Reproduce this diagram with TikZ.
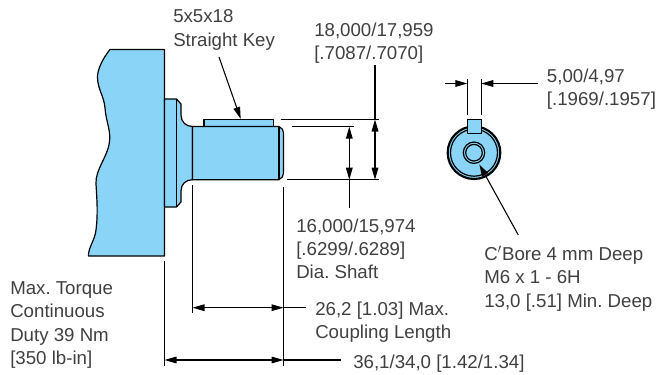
\documentclass[tikz,border=0pt]{standalone}
\usepackage{fontspec}
\setmainfont{Liberation Sans}
\usetikzlibrary{arrows.meta}
\definecolor{partblue}{HTML}{8AD5F7}
\frenchspacing

\begin{document}
\begin{tikzpicture}[
  x=0.75pt, y=-0.75pt,
  every node/.style={font=\fontsize{14}{17.4}\selectfont, align=left, anchor=north west, inner sep=0pt, text=black!75},
  part/.style={draw=black, line width=0.9pt, fill=partblue, line join=round},
  outline/.style={draw=black, line width=0.9pt},
  thinline/.style={draw=black, line width=0.8pt},
  dimline/.style={thinline, {Triangle[length=9pt, width=5pt]}-{Triangle[length=9pt, width=5pt]}},
  leader/.style={thinline, -{Triangle[length=9pt, width=5pt]}}
  ]
\useasboundingbox (0,0) rectangle (662,375);

% Housing and shaft
\draw[part] (110,49.5) .. controls (103,58) and (97,70) .. (97.5,78)
  .. controls (98,90) and (104,96) .. (105,108)
  .. controls (106,122) and (111,130) .. (109.5,142)
  .. controls (108,156) and (95,170) .. (96,184)
  .. controls (97,200) and (98,215) .. (96,230)
  .. controls (95,240) and (88,248) .. (88.5,256)
  -- (164.5,256) -- (164.5,49.5) -- cycle;
\draw[part] (164.5,99) -- (176.5,99) -- (181,104) -- (181,115)
  .. controls (181,122) and (186,126.5) .. (192.5,126.5)
  -- (192.5,179.7) .. controls (186,179.7) and (181,184) .. (181,191)
  -- (181,202) -- (176.5,207) -- (164.5,207) -- cycle;
\draw[part] (204,126.5) -- (204,119.5) -- (273.7,119.5) -- (273.7,126.5) -- cycle;
\draw[part] (192.5,126.5) -- (279,126.5)
  .. controls (282,128) and (283.5,130) .. (283.5,133)
  -- (283.5,173) .. controls (283.5,176) and (282,178.5) .. (279,179.7)
  -- (192.5,179.7) -- cycle;
\draw[outline] (176.5,99) -- (176.5,207);
\draw[outline] (279,126.5) -- (279,179.7);

% End view
\draw[part, line width=1.6pt] (474,152.7) circle (26.3);
\draw[outline] (474,152.7) circle (23.5);
\draw[part] (467.3,119.3) rectangle (481.3,133.3);
\draw[outline] (474,152.7) circle (10.7);
\draw[outline] (474,152.7) circle (8.3);

% Labels
\node (keylabel) at (173,9.6) {5x5x18\\Straight Key};
\node (outerlabel) at (314,22.4) {18,000/17,959\\{[.7087/.7070]}};
\node (slotlabel) at (546.7,68.3) {5,00/4,97\\{[.1969/.1957]}};
\node (innerlabel) at (296,218.3) {16,000/15,974\\{[.6299/.6289]}\\Dia. Shaft};
\node (boltlabel) at (484,246) {C$'$Bore 4 mm Deep\\M6 x 1 - 6H\\13,0 [.51] Min. Deep};
\node (torquelabel) at (10,281.6) {Max. Torque\\Continuous\\Duty 39 Nm\\{[350 lb-in]}};
\node (couplinglabel) at (315,301.6) {26,2 [1.03] Max.\\Coupling Length};
\node (lengthlabel) at (353,355) {36,1/34,0 [1.42/1.34]};

% Leaders
\coordinate (keytop) at (240.7,119);
\coordinate (keyfoot) at (219,57);
\coordinate (borepoint) at (479.3,164.3);
\coordinate (borefoot) at (518.3,235);
\draw[leader] (keyfoot) -- (keytop);
\draw[leader] (borefoot) -- (borepoint);

% Shaft diameters
\draw[thinline] (280.7,119.5) -- (379,119.5);
\draw[thinline] (286.7,179.7) -- (379,179.7);
\draw[thinline] (291.7,126.7) -- (354.3,126.7);
\draw[dimline] (375,119.5) -- (375,179.7);
\draw[thinline] (375,65) -- (375,119.5);
\draw[dimline] (349.3,126.7) -- (349.3,179.7);
\draw[thinline] (349.3,179.7) -- (349.3,208);

% Slot width
\draw[thinline] (467.3,79.3) -- (467.3,115);
\draw[thinline] (481.3,79.3) -- (481.3,115);
\draw[leader] (445,83.5) -- (467.3,83.5);
\draw[leader] (538,83.5) -- (481.3,83.5);

% Lengths
\draw[thinline] (192.5,185) -- (192.5,313);
\draw[thinline] (283.5,187) -- (283.5,366);
\draw[thinline] (164.5,261) -- (164.5,366);
\draw[dimline] (192.5,307.7) -- (283.5,307.7);
\draw[thinline] (283.5,307.7) -- (306,307.7);
\draw[dimline] (164.5,360) -- (283.5,360);
\draw[thinline] (283.5,360) -- (341,360);

\end{tikzpicture}
\end{document}
